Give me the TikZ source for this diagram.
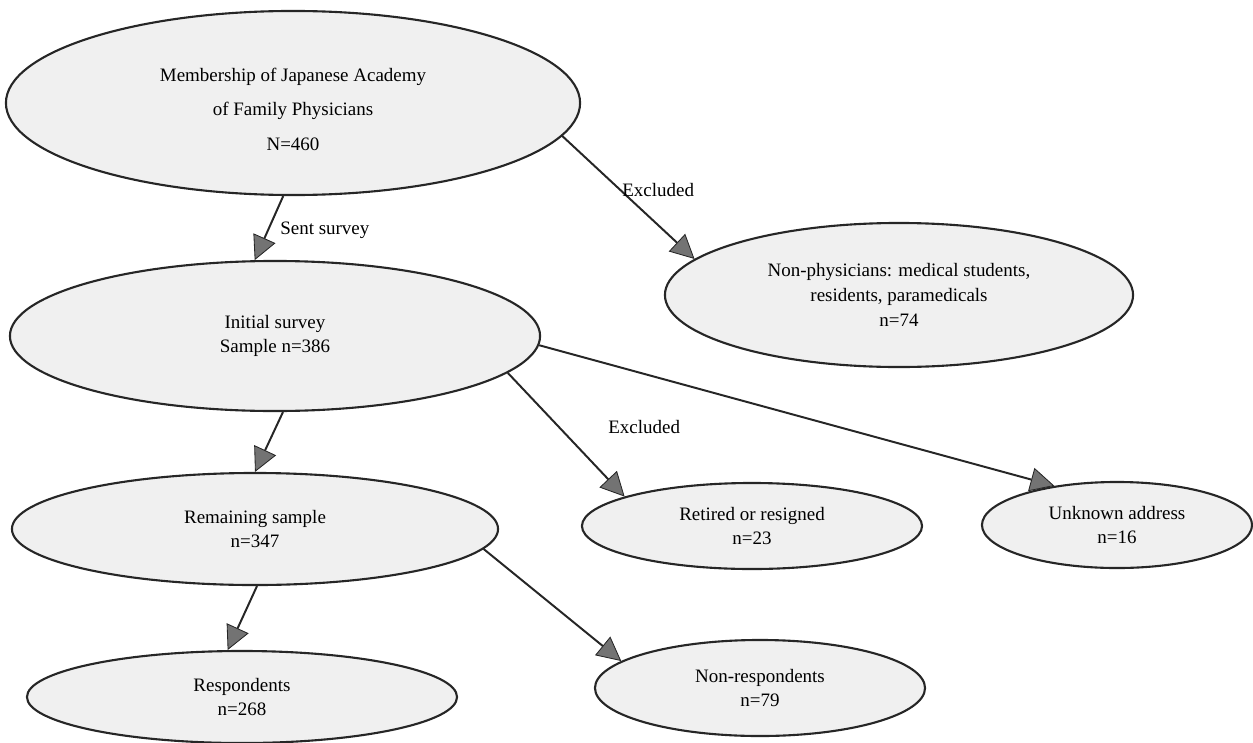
\documentclass[tikz,border=0pt]{standalone}
\usepackage{fontspec}
\setmainfont{Liberation Serif}
\usetikzlibrary{arrows.meta, shapes.geometric, calc}

\begin{document}
\begin{tikzpicture}[
    x=0.025cm, y=-0.025cm,
    blob/.style = {ellipse, draw=black!85, line width=1.5pt, fill=black!6,
                   inner sep=0pt, align=center,
                   font=\fontsize{13.5}{16.5}\selectfont},
    arr/.style = {-{Triangle[length=0.6cm, width=0.6cm, fill=black!55,
                   line width=0.6pt]}, line width=1.4pt, black!85},
    lbl/.style = {anchor=west, inner sep=0pt,
                  font=\fontsize{13.5}{16.5}\selectfont},
  ]
    \useasboundingbox (0,0) rectangle (1253,742);
    \node[blob, minimum width=14.35cm, minimum height=4.6cm] (member) at (293,103)
      {\rule{0pt}{18pt}Membership of Japanese Academy\\[8pt] of Family Physicians\\[8pt] N=460};
    \node[blob, minimum width=11.7cm, minimum height=3.6cm] (nonphys) at (899,295)
      {Non-physicians: medical students,\\[1pt] residents, paramedicals\\[1pt] n=74};
    \node[blob, minimum width=13.25cm, minimum height=3.75cm] (initial) at (275,336)
      {Initial survey\\ Sample n=386};
    \node[blob, minimum width=12.15cm, minimum height=2.8cm] (remain) at (255,529)
      {Remaining sample\\ n=347};
    \node[blob, minimum width=8.5cm, minimum height=2.15cm] (retired) at (752,526)
      {Retired or resigned\\ n=23};
    \node[blob, minimum width=6.75cm, minimum height=2.15cm] (unknown) at (1117,525)
      {Unknown address\\ n=16};
    \node[blob, minimum width=8.25cm, minimum height=2.4cm] (nonresp) at (760,688)
      {Non-respondents\\ n=79};
    \node[blob, minimum width=10.75cm, minimum height=2.3cm] (resp) at (242,697)
      {Respondents\\ n=268};
    \draw[arr] (member.-96)  -- (initial.105);
    \draw[arr] (member.-7)   -- (nonphys.170);
    \draw[arr] (initial.-84) -- (remain.90);
    \draw[arr] (initial.-9)  -- (retired.167);
    \draw[arr] (initial.-2)  -- (unknown.148);
    \draw[arr] (remain.-5)   -- (nonresp.169);
    \draw[arr] (remain.-88)  -- (resp.107);
    % edge labels
    \node[lbl] (sentlbl) at (280,230) {Sent survey};
    \node[lbl] (exclA) at (622,190) {Excluded};
    \node[lbl] (exclB) at (608,427) {Excluded};
  \end{tikzpicture}
\end{document}
